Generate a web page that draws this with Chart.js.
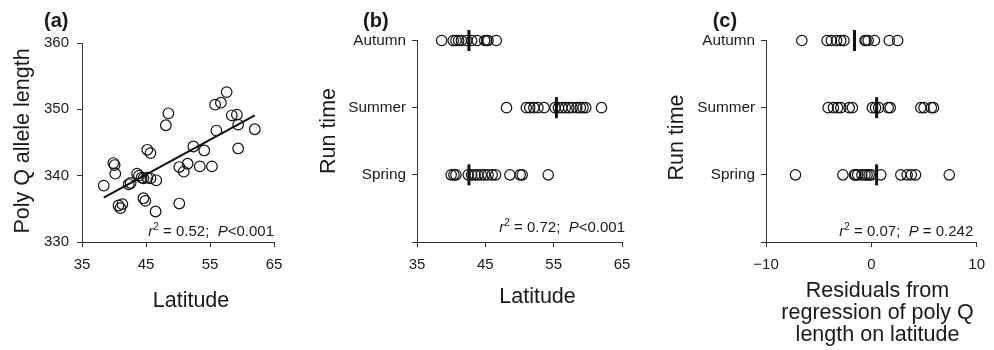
<!DOCTYPE html>
<html>
<head>
<meta charset="utf-8">
<script src="https://cdn.jsdelivr.net/npm/chart.js@4.4.1/dist/chart.umd.min.js"></script>
<style>
html,body{margin:0;padding:0;background:#fff;}
#wrap{position:relative;width:994px;height:350px;overflow:hidden;}
canvas{position:absolute;top:0;}
</style>
</head>
<body>
<div id="wrap">
<canvas id="ca" width="300" height="350" style="left:0px"></canvas>
<canvas id="cb" width="340" height="350" style="left:300px"></canvas>
<canvas id="cc" width="354" height="350" style="left:640px"></canvas>
</div>
<script>
// ---------- data ----------
// (a) latitude vs poly Q allele length
const latitude = [38.4,39.9,40.1,40.2,40.7,41.0,41.3,42.3,42.6,43.6,43.9,44.3,44.6,45.2,45.7,46.6,44.6,44.9,45.2,45.7,46.5,48.1,48.5,50.2,50.2,50.9,51.5,52.4,53.4,54.1,55.3,55.8,56.0,56.7,57.6,58.4,59.2,59.4,59.4,62.0];
const polyQLength = [338.5,341.9,341.6,340.3,335.5,335.1,335.7,338.7,338.9,340.3,340.0,339.7,339.6,339.7,339.6,339.3,336.6,336.2,343.9,343.4,334.6,347.6,349.4,335.8,341.3,340.6,341.8,344.4,341.4,343.8,341.4,350.7,346.8,351.0,352.6,349.1,349.2,347.7,344.1,347.0];
const regressionLat = [38.4, 62.0];
const regressionPolyQ = [336.7, 349.1];

// (b) run time vs latitude
const seasons = ['Spring','Summer','Autumn'];
const latSpring = [40.0,40.4,40.7,42.5,43.0,43.5,43.9,44.4,44.9,45.4,46.0,46.5,48.6,50.1,50.4,54.2];
const latSummer = [48.1,51.0,51.5,52.1,52.7,53.6,55.2,55.7,56.2,56.7,57.2,57.7,58.4,58.9,59.3,59.7,62.0];
const latAutumn = [38.6,40.3,40.7,41.1,41.5,42.3,43.0,43.8,44.9,45.2,45.4,46.6];
const latMedian = [42.6,55.4,42.6];

// (c) run time vs residuals
const resSpring = [-7.2,-2.7,-1.6,-1.5,-1.3,-0.9,-0.6,-0.4,-0.2,0.0,0.9,2.8,3.4,3.8,4.2,7.4];
const resSummer = [-4.1,-3.6,-3.2,-2.9,-2.1,-1.8,0.1,0.4,0.7,1.6,1.8,4.7,5.0,5.7,5.9];
const resAutumn = [-6.6,-4.2,-3.8,-3.3,-2.9,-2.6,-0.6,-0.5,-0.3,0.3,1.7,2.5];
const resMedian = [0.5,0.5,-1.6];

// ticks
const latTicks = [35,45,55,65];
const polyQTicks = [330,340,350,360];
const seasonTicks = [0,1,2,3];
const residualTicks = [-10,0,10];

// ---------- styling ----------
const FAM = "'Liberation Sans', Arial, Helvetica, sans-serif";
const TXT = '#1a1a1a';
const AXIS = '#333';

function makeTextPlugin(items) {
  return {
    id: 'panelText',
    afterDraw(chart) {
      const ctx = chart.ctx;
      items.forEach(it => {
        ctx.save();
        ctx.fillStyle = TXT;
        if (it.runs) {
          let total = 0;
          it.runs.forEach(r => { ctx.font = r.font; r.w = ctx.measureText(r.t).width; total += r.w; });
          let x = it.x - total;
          ctx.textAlign = 'left';
          ctx.textBaseline = 'alphabetic';
          it.runs.forEach(r => { ctx.font = r.font; ctx.fillText(r.t, x, it.y + (r.dy || 0)); x += r.w; });
        } else {
          ctx.font = it.font;
          ctx.textAlign = it.align || 'left';
          ctx.textBaseline = 'alphabetic';
          ctx.translate(it.x, it.y);
          if (it.rotate) ctx.rotate(it.rotate * Math.PI / 180);
          const lines = Array.isArray(it.text) ? it.text : [it.text];
          lines.forEach((l, i) => ctx.fillText(l, 0, i * (it.lineHeight || 0)));
        }
        ctx.restore();
      });
    }
  };
}

function annot(r2, pRest, x, y) {
  const n = '15px ' + FAM, it = 'italic 15px ' + FAM, sup = '10px ' + FAM;
  return { x: x, y: y, runs: [
    { t: 'r', font: it },
    { t: '2', font: sup, dy: -6 },
    { t: ' = ' + r2 + ';  ', font: n },
    { t: 'P', font: it },
    { t: pRest, font: n }
  ]};
}

const TITLE_FONT = '21.5px ' + FAM;
const LABEL_FONT = 'bold 20px ' + FAM;

function axisScale(opts) {
  const ticksArr = opts.tickValues;
  return {
    type: 'linear',
    position: opts.position,
    min: opts.min, max: opts.max,
    border: { display: true, color: AXIS, width: 1 },
    grid: { display: true, drawOnChartArea: false, drawTicks: true, tickLength: 5, color: AXIS, tickColor: AXIS, lineWidth: 1 },
    ticks: {
      color: TXT,
      padding: opts.padding,
      font: { family: FAM, size: opts.fontSize || 15 },
      autoSkip: false,
      maxRotation: 0,
      callback: opts.labels
    },
    afterBuildTicks(scale) { scale.ticks = ticksArr.map(v => ({ value: v })); },
    afterFit(scale) {
      if (opts.position === 'left') scale.width = opts.size; else scale.height = opts.size;
    }
  };
}

const numLabel = v => (v < 0 ? '\u2212' + Math.abs(v) : String(v));
const seasonLabel = v => (v >= 1 ? seasons[v - 1] : '');

const pointStyleCommon = { pointStyle: 'circle', backgroundColor: 'rgba(0,0,0,0)', borderColor: '#111', borderWidth: 1.2, clip: false };

function seasonDatasets(springVals, summerVals, autumnVals, medians) {
  const rows = [springVals, summerVals, autumnVals];
  const ds = rows.map((vals, i) => Object.assign({
    label: seasons[i],
    data: vals.map(v => ({ x: v, y: i + 1 })),
    pointRadius: 5.2,
    showLine: false
  }, pointStyleCommon));
  ds.push({
    label: 'Median',
    data: medians.map((v, i) => ({ x: v, y: i + 1 })),
    pointStyle: 'line',
    rotation: 90,
    pointRadius: 10.5,
    borderColor: '#111',
    backgroundColor: '#111',
    borderWidth: 3,
    showLine: false,
    clip: false
  });
  return ds;
}

const baseOptions = {
  responsive: false,
  animation: false,
  plugins: { legend: { display: false }, tooltip: { enabled: false } },
  elements: { point: { hoverRadius: 5 } }
};

// ---------- (a) ----------
new Chart(document.getElementById('ca'), {
  type: 'scatter',
  data: {
    datasets: [
      Object.assign({
        label: 'Populations',
        data: latitude.map((v, i) => ({ x: v, y: polyQLength[i] })),
        pointRadius: 5.3,
        showLine: false
      }, pointStyleCommon),
      {
        label: 'Regression',
        data: regressionLat.map((v, i) => ({ x: v, y: regressionPolyQ[i] })),
        showLine: true,
        borderColor: '#111',
        borderWidth: 2,
        pointRadius: 0,
        fill: false
      }
    ]
  },
  options: Object.assign({}, baseOptions, {
    layout: { padding: { left: 0, top: 43, right: 26, bottom: 0 } },
    scales: {
      x: axisScale({ position: 'bottom', min: 35, max: 65, tickValues: latTicks, labels: numLabel, padding: 9, size: 108 }),
      y: axisScale({ position: 'left', min: 330, max: 360, tickValues: polyQTicks, labels: numLabel, padding: 8, size: 82 })
    }
  }),
  plugins: [makeTextPlugin([
    { text: '(a)', x: 44, y: 27, font: LABEL_FONT },
    { text: 'Poly Q allele length', x: 29, y: 141, rotate: -90, align: 'center', font: TITLE_FONT },
    { text: 'Latitude', x: 191, y: 307, align: 'center', font: TITLE_FONT },
    annot('0.52', '<0.001', 274, 236)
  ])]
});

// ---------- (b) ----------
new Chart(document.getElementById('cb'), {
  type: 'scatter',
  data: { datasets: seasonDatasets(latSpring, latSummer, latAutumn, latMedian) },
  options: Object.assign({}, baseOptions, {
    layout: { padding: { left: 0, top: 40.5, right: 18, bottom: 0 } },
    scales: {
      x: axisScale({ position: 'bottom', min: 35, max: 65, tickValues: latTicks, labels: numLabel, padding: 9, size: 108 }),
      y: axisScale({ position: 'left', min: 0, max: 3, tickValues: seasonTicks, labels: seasonLabel, padding: 6, size: 117, fontSize: 15.3 })
    }
  }),
  plugins: [makeTextPlugin([
    { text: '(b)', x: 63, y: 27, font: LABEL_FONT },
    { text: 'Run time', x: 35, y: 131, rotate: -90, align: 'center', font: TITLE_FONT },
    { text: 'Latitude', x: 237.5, y: 303, align: 'center', font: TITLE_FONT },
    annot('0.72', '<0.001', 325, 232)
  ])]
});

// ---------- (c) ----------
new Chart(document.getElementById('cc'), {
  type: 'scatter',
  data: { datasets: seasonDatasets(resSpring, resSummer, resAutumn, resMedian) },
  options: Object.assign({}, baseOptions, {
    layout: { padding: { left: 0, top: 40.5, right: 10, bottom: 0 } },
    scales: {
      x: axisScale({ position: 'bottom', min: -10, max: 10, tickValues: residualTicks, labels: numLabel, padding: 9, size: 108 }),
      y: axisScale({ position: 'left', min: 0, max: 3, tickValues: seasonTicks, labels: seasonLabel, padding: 6, size: 126, fontSize: 15.3 })
    }
  }),
  plugins: [makeTextPlugin([
    { text: '(c)', x: 72.7, y: 27, font: LABEL_FONT },
    { text: 'Run time', x: 43.3, y: 137.5, rotate: -90, align: 'center', font: TITLE_FONT },
    { text: ['Residuals from', 'regression of poly Q', 'length on latitude'], x: 237.5, y: 297, lineHeight: 22, align: 'center', font: TITLE_FONT },
    annot('0.07', ' = 0.242', 333.3, 236)
  ])]
});
</script>
</body>
</html>
